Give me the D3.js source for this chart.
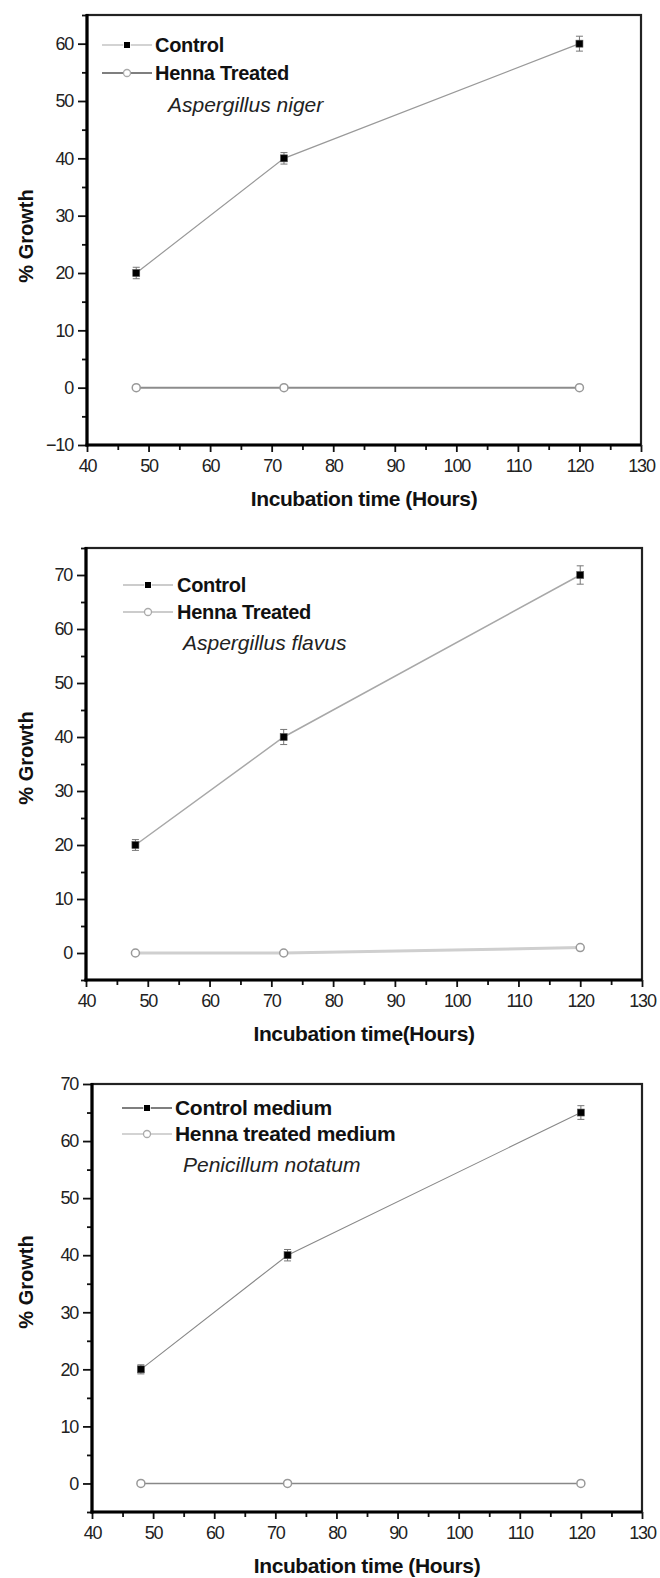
<!DOCTYPE html>
<html>
<head>
<meta charset="utf-8">
<script src="https://cdn.jsdelivr.net/npm/d3@7"></script>
<style>
  body { margin: 0; background: #fff; }
  svg { display: block; font-family: "Liberation Sans", Arial, sans-serif; }
</style>
</head>
<body>
<svg id="chart" width="660" height="1578"></svg>
<script>
// values
const hours = [48, 72, 120];
const xTicks = [40, 50, 60, 70, 80, 90, 100, 110, 120, 130];

const nigerControl = [20, 40, 60];
const nigerControlErr = [1, 1, 1.3];
const nigerHenna = [0, 0, 0];
const nigerYTicks = [-10, 0, 10, 20, 30, 40, 50, 60];

const flavusControl = [20, 40, 70];
const flavusControlErr = [1, 1.4, 1.7];
const flavusHenna = [0, 0, 1];
const flavusYTicks = [0, 10, 20, 30, 40, 50, 60, 70];

const notatumControl = [20, 40, 65];
const notatumControlErr = [0.8, 1, 1.2];
const notatumHenna = [0, 0, 0];
const notatumYTicks = [0, 10, 20, 30, 40, 50, 60, 70];

const legendA = ["Control", "Henna Treated"];
const legendB = ["Control medium", "Henna treated medium"];

// layout of the three stacked panels
const panels = [
  { top: 15, bottom: 445, left: 87, right: 641, yDomain: [-10, 65], yTicks: nigerYTicks,
    control: nigerControl, err: nigerControlErr, henna: nigerHenna,
    legend: legendA, species: "Aspergillus niger", xTitle: "Incubation time (Hours)",
    legRows: [45, 73], legX: 102, textX: 155, specX: 168, specY: 112, yTitleY: 236, legFont: 20,
    cLine: "#999", cW: 1.2, hLine: "#8c8c8c", hW: 2, legC: "#c4c4c4", legH: "#555" },
  { top: 548, bottom: 980, left: 86, right: 642, yDomain: [-5, 75], yTicks: flavusYTicks,
    control: flavusControl, err: flavusControlErr, henna: flavusHenna,
    legend: legendA, species: "Aspergillus flavus", xTitle: "Incubation time(Hours)",
    legRows: [585, 612], legX: 123, textX: 177, specX: 183, specY: 650, yTitleY: 758, legFont: 20,
    cLine: "#a8a8a8", cW: 1.5, hLine: "#cfcfcf", hW: 3, legC: "#bbb", legH: "#bbb" },
  { top: 1084, bottom: 1512, left: 92, right: 642, yDomain: [-5, 70], yTicks: notatumYTicks,
    control: notatumControl, err: notatumControlErr, henna: notatumHenna,
    legend: legendB, species: "Penicillum notatum", xTitle: "Incubation time (Hours)",
    legRows: [1108, 1134], legX: 122, textX: 175, specX: 183, specY: 1172, yTitleY: 1282, legFont: 21,
    cLine: "#888", cW: 1.1, hLine: "#888", hW: 1.6, legC: "#555", legH: "#c4c4c4" }
];

const svg = d3.select("#chart");

panels.forEach(p => {
  const x = d3.scaleLinear().domain([40, 130]).range([p.left, p.right]);
  const y = d3.scaleLinear().domain(p.yDomain).range([p.bottom, p.top]);
  const g = svg.append("g");

  const yMinor = d3.range(p.yDomain[0], p.yDomain[1] + 0.1, 5).filter(v => v % 10 !== 0);
  const xMinor = d3.range(45, 130, 10);

  // minor ticks
  g.append("g").attr("transform", `translate(${p.left},0)`)
    .call(d3.axisLeft(y).tickValues(yMinor).tickSize(5).tickSizeOuter(0).tickFormat(""))
    .call(a => a.select(".domain").remove())
    .selectAll("line").attr("stroke", "#111").attr("stroke-width", 1.8);
  g.append("g").attr("transform", `translate(0,${p.bottom})`)
    .call(d3.axisBottom(x).tickValues(xMinor).tickSize(5).tickSizeOuter(0).tickFormat(""))
    .call(a => a.select(".domain").remove())
    .selectAll("line").attr("stroke", "#111").attr("stroke-width", 1.8);

  // major ticks + labels
  const ya = g.append("g").attr("transform", `translate(${p.left},0)`)
    .call(d3.axisLeft(y).tickValues(p.yTicks).tickSize(9).tickPadding(5).tickSizeOuter(0));
  ya.select(".domain").remove();
  ya.selectAll("line").attr("stroke", "#111").attr("stroke-width", 1.8);
  ya.selectAll("text").attr("font-size", 18).attr("fill", "#222")
    .attr("font-family", "Liberation Sans, Arial, sans-serif").attr("letter-spacing", -1.2);

  const xa = g.append("g").attr("transform", `translate(0,${p.bottom})`)
    .call(d3.axisBottom(x).tickValues(xTicks).tickSize(7).tickPadding(7).tickSizeOuter(0));
  xa.select(".domain").remove();
  xa.selectAll("line").attr("stroke", "#111").attr("stroke-width", 1.8);
  xa.selectAll("text").attr("font-size", 18).attr("fill", "#222")
    .attr("font-family", "Liberation Sans, Arial, sans-serif").attr("letter-spacing", -1.2);

  // frame
  g.append("rect")
    .attr("x", p.left).attr("y", p.top)
    .attr("width", p.right - p.left).attr("height", p.bottom - p.top)
    .attr("fill", "none").attr("stroke", "#222").attr("stroke-width", 2.2);
  g.append("line").attr("x1", p.left).attr("x2", p.left).attr("y1", p.top - 1).attr("y2", p.bottom + 1.5)
    .attr("stroke", "#000").attr("stroke-width", 3.2);
  g.append("line").attr("x1", p.left - 1.5).attr("x2", p.right).attr("y1", p.bottom).attr("y2", p.bottom)
    .attr("stroke", "#000").attr("stroke-width", 3.2);

  // axis titles
  g.append("text")
    .attr("x", (p.left + p.right) / 2).attr("y", p.bottom + 61)
    .attr("text-anchor", "middle").attr("font-weight", "bold").attr("font-size", 21)
    .attr("letter-spacing", -0.4).attr("fill", "#111")
    .text(p.xTitle);
  g.append("text")
    .attr("transform", `translate(33,${p.yTitleY}) rotate(-90)`)
    .attr("text-anchor", "middle").attr("font-weight", "bold").attr("font-size", 20)
    .attr("fill", "#111")
    .text("% Growth");

  const line = d3.line().x((d, i) => x(hours[i])).y(d => y(d));

  // henna series
  g.append("path").datum(p.henna)
    .attr("d", line).attr("fill", "none")
    .attr("stroke", p.hLine).attr("stroke-width", p.hW);

  // control series
  g.append("path").datum(p.control)
    .attr("d", line).attr("fill", "none")
    .attr("stroke", p.cLine).attr("stroke-width", p.cW);

  // error bars
  const eb = g.selectAll(".eb").data(p.control).enter().append("g");
  eb.append("line")
    .attr("x1", (d, i) => x(hours[i])).attr("x2", (d, i) => x(hours[i]))
    .attr("y1", (d, i) => y(d - p.err[i])).attr("y2", (d, i) => y(d + p.err[i]))
    .attr("stroke", "#777").attr("stroke-width", 1);
  ["-", "+"].forEach(s => {
    eb.append("line")
      .attr("x1", (d, i) => x(hours[i]) - 3.5).attr("x2", (d, i) => x(hours[i]) + 3.5)
      .attr("y1", (d, i) => y(s === "+" ? d + p.err[i] : d - p.err[i]))
      .attr("y2", (d, i) => y(s === "+" ? d + p.err[i] : d - p.err[i]))
      .attr("stroke", "#777").attr("stroke-width", 1);
  });

  g.selectAll(".csq").data(p.control).enter().append("rect")
    .attr("x", (d, i) => x(hours[i]) - 3.5).attr("y", d => y(d) - 3.5)
    .attr("width", 7).attr("height", 7)
    .attr("fill", "#000").attr("stroke", "#555").attr("stroke-width", 0.6);

  g.selectAll(".hc").data(p.henna).enter().append("circle")
    .attr("cx", (d, i) => x(hours[i])).attr("cy", d => y(d)).attr("r", 4)
    .attr("fill", "#fff").attr("stroke", "#999").attr("stroke-width", 1.5);

  // legend
  const legColors = [p.legC, p.legH];
  p.legend.forEach((lab, k) => {
    const cy = p.legRows[k];
    g.append("line").attr("x1", p.legX).attr("x2", p.legX + 50)
      .attr("y1", cy).attr("y2", cy)
      .attr("stroke", legColors[k]).attr("stroke-width", 1.3);
    if (k === 0) {
      g.append("rect").attr("x", p.legX + 22).attr("y", cy - 3).attr("width", 6).attr("height", 6)
        .attr("fill", "#000").attr("stroke", "#fff").attr("stroke-width", 1.5).attr("paint-order", "stroke");
    } else {
      g.append("circle").attr("cx", p.legX + 25).attr("cy", cy).attr("r", 3.5)
        .attr("fill", "#fff").attr("stroke", "#aaa").attr("stroke-width", 1.3);
    }
    g.append("text").attr("x", p.textX).attr("y", cy + 7)
      .attr("font-weight", "bold").attr("font-size", p.legFont).attr("fill", "#111")
      .attr("letter-spacing", -0.3)
      .text(lab);
  });
  g.append("text").attr("x", p.specX).attr("y", p.specY)
    .attr("font-style", "italic").attr("font-size", 21).attr("fill", "#222")
    .text(p.species);
});
</script>
</body>
</html>
